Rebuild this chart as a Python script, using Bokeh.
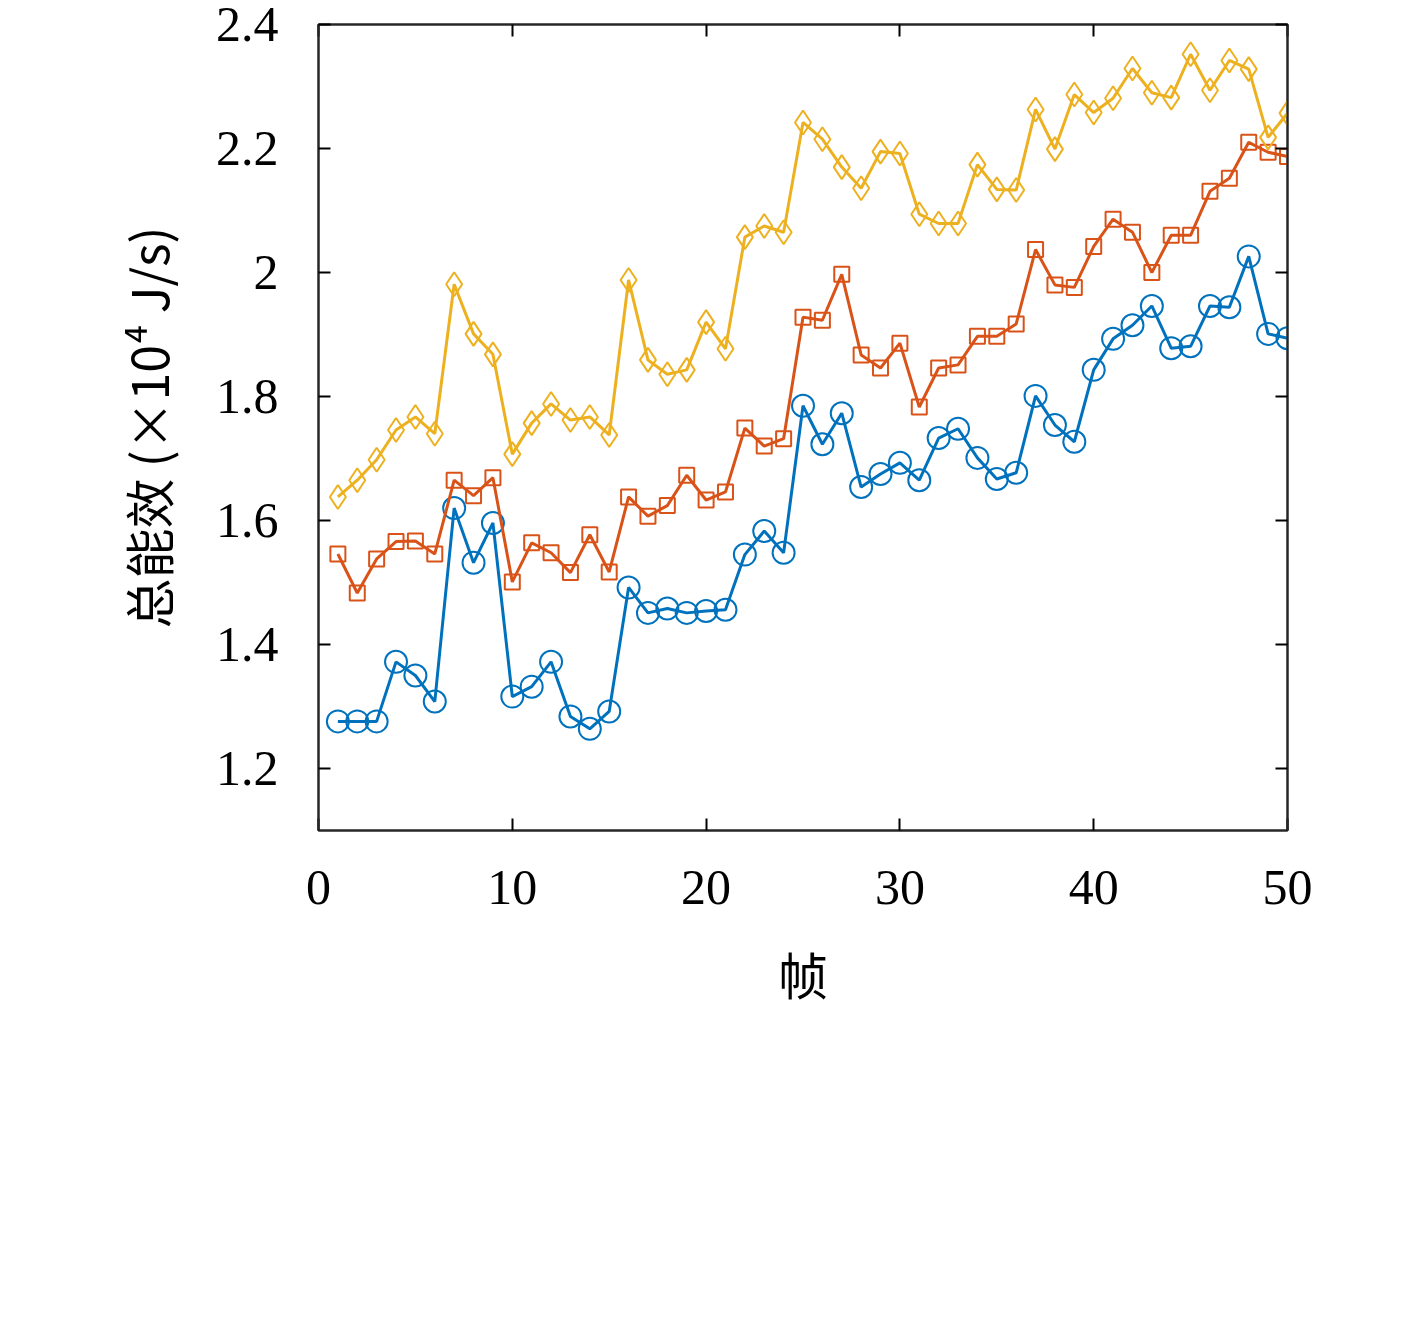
from bokeh.plotting import figure
from bokeh.models import Range1d, LinearAxis, Legend, LegendItem, FixedTicker
from bokeh.embed import file_html
from bokeh.resources import INLINE

frames = list(range(1, 51))
s1000 = [1.276,1.276,1.276,1.372,1.350,1.308,1.620,1.532,1.596,1.316,1.332,1.372,1.284,1.264,1.292,1.492,1.451,1.458,1.451,1.454,1.456,1.545,1.583,1.548,1.785,1.723,1.773,1.654,1.675,1.693,1.665,1.733,1.748,1.701,1.667,1.677,1.801,1.754,1.727,1.843,1.893,1.915,1.946,1.878,1.881,1.946,1.944,2.026,1.901,1.894]
s2000 = [1.546,1.483,1.538,1.566,1.567,1.546,1.665,1.640,1.669,1.501,1.564,1.548,1.516,1.577,1.517,1.638,1.607,1.624,1.673,1.633,1.646,1.749,1.720,1.732,1.928,1.923,1.997,1.867,1.846,1.886,1.783,1.846,1.851,1.897,1.897,1.917,2.037,1.980,1.976,2.042,2.086,2.065,2.000,2.060,2.060,2.131,2.152,2.210,2.194,2.187]
s3000 = [1.638,1.665,1.698,1.746,1.767,1.740,1.981,1.901,1.868,1.707,1.757,1.788,1.762,1.767,1.738,1.988,1.859,1.836,1.843,1.920,1.877,2.057,2.075,2.065,2.242,2.215,2.170,2.136,2.195,2.192,2.094,2.079,2.079,2.174,2.134,2.133,2.263,2.199,2.287,2.258,2.281,2.329,2.290,2.282,2.352,2.294,2.342,2.328,2.218,2.257]
labels = ["𝑀ₘₐₓ=1000 channeluses", "𝑀ₘₐₓ=2000 channeluses", "𝑀ₘₐₓ=3000 channeluses"]
colors = ["#0072BD", "#D95319", "#EDB120"]
x_ticks = [0, 10, 20, 30, 40, 50]
y_ticks = [1.2, 1.4, 1.6, 1.8, 2.0, 2.2, 2.4]

F = "Liberation Serif"
p = figure(width=1400, height=1300, output_backend="svg", toolbar_location=None,
           x_range=Range1d(0, 50), y_range=Range1d(1.1, 2.4),
           min_border_left=318, min_border_right=113, min_border_top=24, min_border_bottom=470)
p.grid.visible = False
p.outline_line_color = "#262626"
p.outline_line_width = 2

def style(ax, labels_on=True, ticks=None):
    ax.major_tick_in = 12
    ax.major_tick_out = 0
    ax.minor_tick_line_color = None
    ax.axis_line_color = "#262626"
    ax.axis_line_width = 2
    ax.major_tick_line_width = 2
    ax.major_label_text_font = F
    ax.major_label_text_font_size = "50px"
    ax.major_label_text_color = "black"
    if not labels_on:
        ax.major_label_overrides = {t: "" for t in ticks}
        ax.major_label_standoff = 0

p.xaxis.ticker = FixedTicker(ticks=x_ticks)
p.yaxis.ticker = FixedTicker(ticks=y_ticks)
style(p.xaxis[0]); style(p.yaxis[0])
p.xaxis.major_label_standoff = 40
p.yaxis.major_label_standoff = 40
p.xaxis.axis_label = "帧"
p.yaxis.axis_label = "总能效 (×10⁴ J/s)"
for ax in (p.xaxis[0], p.yaxis[0]):
    ax.axis_label_text_font = "Noto Sans CJK SC"
    ax.axis_label_text_font_style = "normal"
    ax.axis_label_text_font_size = "50px"
    ax.axis_label_text_color = "black"
p.xaxis.axis_label_standoff = 30
p.yaxis.axis_label_standoff = 30
ra = LinearAxis(ticker=FixedTicker(ticks=y_ticks)); style(ra, False, y_ticks)
ta = LinearAxis(ticker=FixedTicker(ticks=x_ticks)); style(ta, False, x_ticks)
p.add_layout(ra, "right"); p.add_layout(ta, "above")

items = []
data = [s1000, s2000, s3000]
markers = ["circle", "square", "diamond"]
sizes = [22, 15, 24]
for d, c, m, sz, lab in zip(data, colors, markers, sizes, labels):
    l = p.line(frames, d, line_color=c, line_width=3)
    s = p.scatter(frames, d, marker=m, size=sz, fill_color=None, line_color=c, line_width=2)
    items.append(LegendItem(label=lab, renderers=[l, s]))

leg = Legend(items=items, location=(94, -470), label_text_font=F, label_text_font_size="50px",
             label_text_color="black",
             glyph_width=85, glyph_height=60, label_height=60, spacing=20, border_line_color=None,
             background_fill_alpha=0, margin=0, padding=0, label_standoff=20)
p.add_layout(leg, "center")

open("out.html", "w").write(file_html(p, INLINE))
